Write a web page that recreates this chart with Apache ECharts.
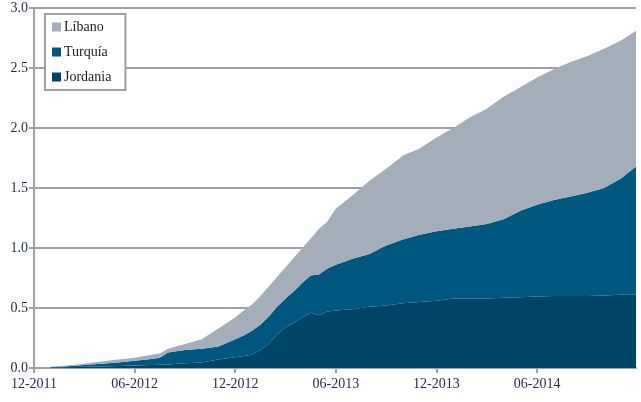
<!DOCTYPE html>
<html>
<head>
<meta charset="utf-8">
<script src="https://cdn.jsdelivr.net/npm/echarts@6/dist/echarts.min.js"></script>
<style>
	html, body { margin: 0; padding: 0; background: #fff; }
	#chart { width: 641px; height: 402px; }
</style>
</head>
<body>
<div id="chart"></div>
<script>
// meses desde 12-2011
var meses = [1, 2, 3, 4, 5, 6, 7, 7.5, 8, 9, 10, 11, 12, 12.5, 13, 13.5, 14, 14.5, 15, 15.5, 16, 16.5, 17, 17.5, 18,
	19, 20, 21, 22, 23, 24, 25, 26, 27, 28, 29, 30, 31, 32, 33, 34, 35, 35.9];

var jordania = [0.003, 0.006, 0.01, 0.013, 0.017, 0.02, 0.025, 0.028, 0.03, 0.04, 0.045, 0.07, 0.09, 0.1, 0.11, 0.15,
	0.2, 0.28, 0.34, 0.38, 0.42, 0.46, 0.44, 0.47, 0.48, 0.49, 0.51, 0.52, 0.54, 0.55, 0.56, 0.58, 0.58, 0.58, 0.585,
	0.59, 0.595, 0.6, 0.6, 0.6, 0.605, 0.61, 0.61];

var turquia = [0.005, 0.009, 0.015, 0.022, 0.028, 0.04, 0.05, 0.057, 0.1, 0.11, 0.115, 0.11, 0.15, 0.17, 0.2, 0.21,
	0.23, 0.23, 0.24, 0.26, 0.29, 0.31, 0.34, 0.36, 0.38, 0.42, 0.44, 0.5, 0.53, 0.56, 0.58, 0.58, 0.6, 0.62, 0.655,
	0.72, 0.765, 0.8, 0.83, 0.86, 0.895, 0.97, 1.07];

var libano = [0.002, 0.005, 0.01, 0.02, 0.025, 0.025, 0.035, 0.035, 0.03, 0.05, 0.08, 0.15, 0.18, 0.21, 0.22, 0.24,
	0.25, 0.25, 0.26, 0.28, 0.29, 0.31, 0.38, 0.39, 0.47, 0.53, 0.61, 0.64, 0.7, 0.72, 0.78, 0.84, 0.91, 0.96, 1.02,
	1.03, 1.06, 1.09, 1.12, 1.14, 1.16, 1.15, 1.13];

var etiquetasX = ['12-2011', '06-2012', '12-2012', '06-2013', '12-2013', '06-2014'];
var posicionesX = [0, 6, 12, 18, 24, 30];

// valor primero para que el apilado se haga sobre el eje y
function pares(valores) {
	var res = [];
	for (var i = 0; i < meses.length; i++) {
		res.push([valores[i], meses[i]]);
	}
	return res;
}

var fuente = 'Liberation Serif';

function serie(nombre, valores, color) {
	return {
		name: nombre,
		type: 'line',
		stack: 'total',
		data: pares(valores),
		encode: { x: 1, y: 0 },
		showSymbol: false,
		symbol: 'none',
		lineStyle: { width: 0 },
		areaStyle: { color: color, opacity: 1 },
		itemStyle: { color: color },
		silent: true
	};
}

var myChart = echarts.init(document.getElementById('chart'));
myChart.setOption({
	animation: false,
	backgroundColor: '#fff',
	grid: { left: 34, right: 5, top: 8, bottom: 34, containLabel: false },
	legend: {
		data: ['Líbano', 'Turquía', 'Jordania'],
		orient: 'vertical',
		left: 45,
		top: 14,
		icon: 'rect',
		itemWidth: 9,
		itemHeight: 9,
		itemGap: 11,
		padding: [6, 14, 6, 7],
		borderColor: '#a0a0a0',
		borderWidth: 2,
		backgroundColor: '#fff',
		textStyle: { fontFamily: fuente, fontSize: 14, color: '#1a1a2a', padding: [0, 0, 0, -2] }
	},
	xAxis: {
		type: 'value',
		min: 0,
		max: 35.9,
		interval: 6,
		splitLine: { show: false },
		axisLine: { show: true, lineStyle: { color: '#a0a0a0', width: 2 } },
		axisTick: { show: true, length: 5, customValues: posicionesX, lineStyle: { color: '#a0a0a0', width: 2 } },
		axisLabel: {
			customValues: posicionesX,
			margin: 9,
			fontFamily: fuente,
			fontSize: 14,
			color: '#1c2b4a',
			formatter: function (v) {
				var i = posicionesX.indexOf(Math.round(v));
				return i >= 0 ? etiquetasX[i] : '';
			}
		}
	},
	yAxis: {
		type: 'value',
		min: 0,
		max: 3,
		interval: 0.5,
		axisLine: { show: true, lineStyle: { color: '#a0a0a0', width: 2 } },
		axisTick: { show: true, length: 5, lineStyle: { color: '#a0a0a0', width: 2 } },
		splitLine: { show: true, lineStyle: { color: '#a0a0a0', width: 2 } },
		axisLabel: {
			margin: 6,
			fontFamily: fuente,
			fontSize: 14,
			color: '#1c2b4a',
			formatter: function (v) { return v.toFixed(1); }
		}
	},
	series: [
		serie('Jordania', jordania, '#004466'),
		serie('Turquía', turquia, '#00577f'),
		serie('Líbano', libano, '#a3aeba')
	]
});
</script>
</body>
</html>
